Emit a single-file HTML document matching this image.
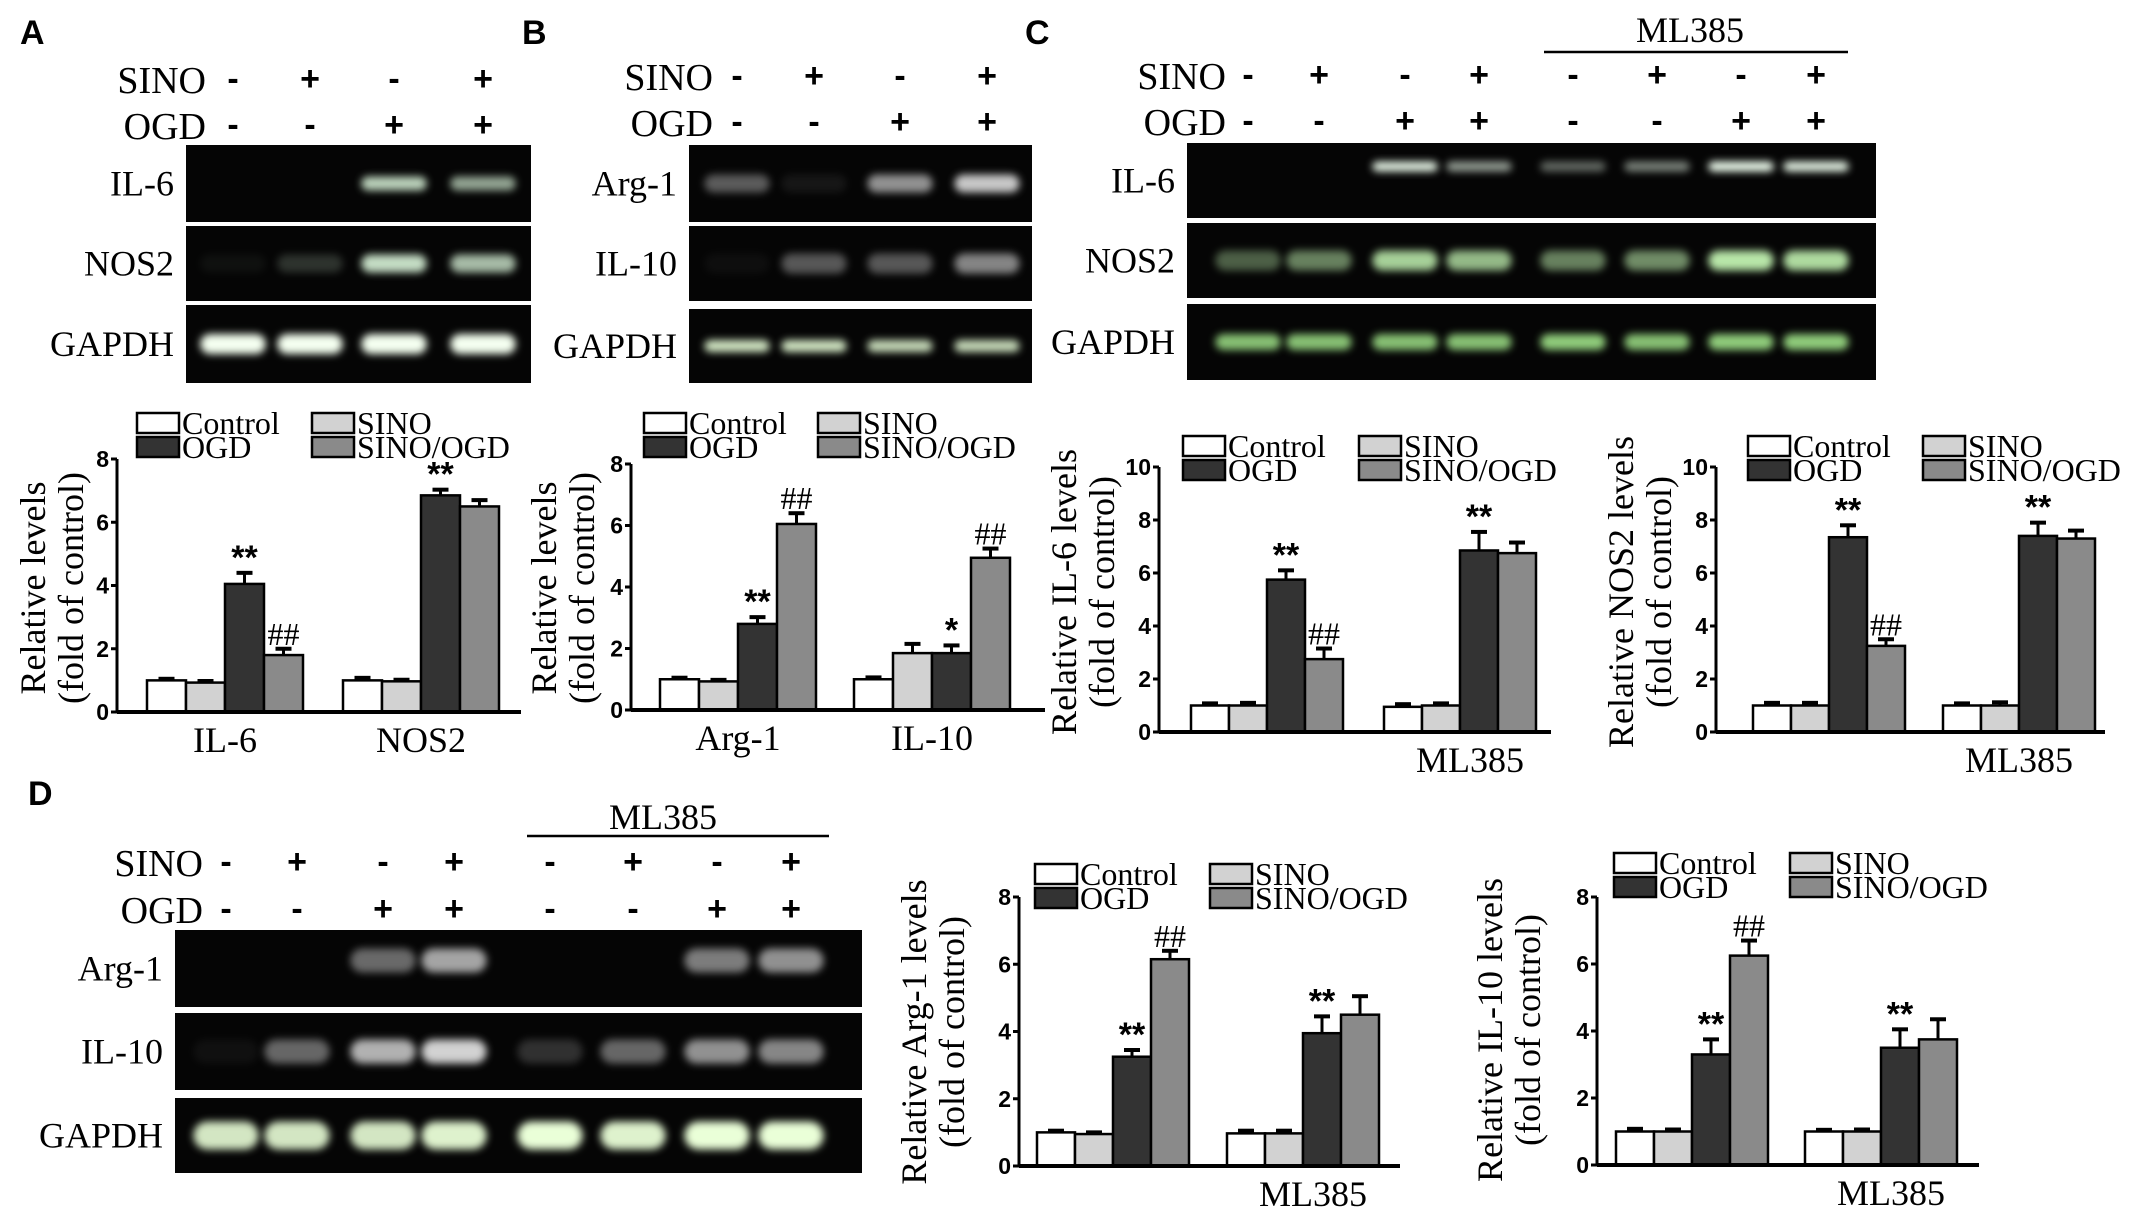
<!DOCTYPE html>
<html><head><meta charset="utf-8"><style>
html,body{margin:0;padding:0;background:#fff;}
svg{display:block;}
text{font-family:"Liberation Serif",serif;fill:#000;}
.b{font-family:"Liberation Sans",sans-serif;font-weight:bold;}
</style></head><body>
<svg id="fig" width="2150" height="1212" viewBox="0 0 2150 1212" xmlns="http://www.w3.org/2000/svg">
<defs>
<filter id="blur" x="-30%" y="-80%" width="160%" height="260%"><feGaussianBlur stdDeviation="4"/></filter>
</defs>
<g id="root"></g>
</svg>
<script>
// ---- chart data ----
const groupsA = ["IL-6","NOS2"];
const ctrlA = [1.0,1.0], sinoA=[0.93,0.97], ogdA=[4.05,6.85], sogdA=[1.8,6.5];
const errA = [[0.05,0.05,0.35,0.2],[0.08,0.05,0.18,0.2]];
const annA = [["","","**","##"],["","","**",""]];
const groupsB = ["Arg-1","IL-10"];
const ctrlB=[1.0,1.0], sinoB=[0.93,1.85], ogdB=[2.8,1.85], sogdB=[6.05,4.95];
const errB=[[0.05,0.05,0.22,0.35],[0.06,0.3,0.25,0.3]];
const annB=[["","","**","##"],["","","*","##"]];
const groupsC = ["","ML385"];
const ctrlC1=[1.0,0.95], sinoC1=[1.0,1.0], ogdC1=[5.75,6.85], sogdC1=[2.75,6.75];
const errC1=[[0.08,0.1,0.35,0.4],[0.1,0.08,0.7,0.4]];
const annC1=[["","","**","##"],["","","**",""]];
const ctrlC2=[1.0,1.0], sinoC2=[1.0,1.0], ogdC2=[7.35,7.4], sogdC2=[3.25,7.3];
const errC2=[[0.1,0.1,0.45,0.25],[0.08,0.12,0.5,0.3]];
const annC2=[["","","**","##"],["","","**",""]];
const ctrlD1=[1.0,0.97], sinoD1=[0.95,0.97], ogdD1=[3.25,3.95], sogdD1=[6.15,4.5];
const errD1=[[0.05,0.05,0.2,0.25],[0.08,0.08,0.5,0.55]];
const annD1=[["","","**","##"],["","","**",""]];
const ctrlD2=[1.0,1.0], sinoD2=[1.0,1.0], ogdD2=[3.3,3.5], sogdD2=[6.25,3.75];
const errD2=[[0.08,0.06,0.45,0.45],[0.05,0.06,0.55,0.6]];
const annD2=[["","","**","##"],["","","**",""]];
const ticks8=[0,2,4,6,8], ticks10=[0,2,4,6,8,10];
const seriesNames=["Control","SINO","OGD","SINO/OGD"];
const fills=["#ffffff","#d2d2d2","#333333","#8a8a8a"];

const NS="http://www.w3.org/2000/svg";
const root=document.getElementById('root');
function mk(tag,attrs,parent,txt){const e=document.createElementNS(NS,tag);for(const k in attrs)e.setAttribute(k,attrs[k]);if(txt!==undefined)e.textContent=txt;(parent||root).appendChild(e);return e;}

function chart(o){
  const g=mk('g',{});
  
  
  const y=v=>o.y0-(v/o.max)*(o.y0-o.yTop);
  const series=[o.c,o.s,o.og,o.so];
  for(let gi=0;gi<2;gi++){
    for(let si=0;si<4;si++){
      const v=series[si][gi], x=o.gx[gi]+si*o.bw;
      const r=mk('rect',{x:x,y:y(v),width:o.bw,height:o.y0-y(v),fill:fills[si],stroke:'#000','stroke-width':2.5},g);
      
      
      const e=o.err[gi][si], cx=x+o.bw/2, yt=y(v+e);
      mk('line',{x1:cx,y1:y(v),x2:cx,y2:yt,stroke:'#000','stroke-width':3},g);
      mk('line',{x1:cx-8,y1:yt,x2:cx+8,y2:yt,stroke:'#000','stroke-width':4},g);
      const a=o.ann[gi][si];
      if(a){const t=mk('text',{x:cx,y:yt-4,'text-anchor':'middle','font-size':a[0]==='#'?32:34,class:a[0]==='*'?'b':''},g,a);
        }
    }
    if(o.groups[gi]){const t=mk('text',{x:o.gx[gi]+2*o.bw+(o.labShift||0),y:o.y0+40,'text-anchor':'middle','font-size':36},g,o.groups[gi]);
      }
  }
  mk('line',{x1:o.ax,y1:o.yTop,x2:o.ax,y2:o.y0,stroke:'#000','stroke-width':3},g);
  mk('line',{x1:o.ax,y1:o.y0,x2:o.xEnd,y2:o.y0,stroke:'#000','stroke-width':4},g);
  o.ticks.forEach(tv=>{mk('line',{x1:o.ax-6,y1:y(tv),x2:o.ax,y2:y(tv),stroke:'#000','stroke-width':3},g);
    const t=mk('text',{x:o.ax-8,y:y(tv)+8,'text-anchor':'end','font-size':23,class:'b'},g,String(tv));
    });
  const yt=mk('text',{transform:`translate(${o.tx},${o.tcy}) rotate(-90)`,'text-anchor':'middle','font-size':36},g);
  
  mk('tspan',{x:0,y:0},yt,o.title);mk('tspan',{x:0,dy:38},yt,'(fold of control)');
  // legend
  const lg=mk('g',{},g);
  const pos=[[o.lx1,o.ly],[o.lx2,o.ly],[o.lx1,o.ly+24],[o.lx2,o.ly+24]];
  for(let i=0;i<4;i++){
    const [lx,ly]=pos[i];
    const e=mk('g',{},lg);
    mk('rect',{x:lx,y:ly,width:42,height:20,fill:fills[i],stroke:'#000','stroke-width':2.5},e);
    mk('text',{x:lx+45,y:ly+21,'font-size':32},e,seriesNames[i]);
  }
}
chart({name:'chart-a',groups:groupsA,c:ctrlA,s:sinoA,og:ogdA,so:sogdA,err:errA,ann:annA,max:8,ticks:ticks8,ax:117,y0:712,yTop:459,xEnd:521,gx:[147,343],bw:39,title:'Relative levels',tx:45,tcy:588,lx1:137,lx2:312,ly:413});
chart({name:'chart-b',groups:groupsB,c:ctrlB,s:sinoB,og:ogdB,so:sogdB,err:errB,ann:annB,max:8,ticks:ticks8,ax:631,y0:710,yTop:464,xEnd:1045,gx:[660,854],bw:39,title:'Relative levels',tx:556,tcy:588,lx1:644,lx2:818,ly:413});
chart({name:'chart-c-il6',groups:groupsC,c:ctrlC1,s:sinoC1,og:ogdC1,so:sogdC1,err:errC1,ann:annC1,max:10,ticks:ticks10,ax:1159,y0:732,yTop:467,xEnd:1551,gx:[1191,1384],bw:38,title:'Relative IL-6 levels',tx:1076,tcy:592,lx1:1183,lx2:1359,ly:436,labShift:10});
chart({name:'chart-c-nos2',groups:groupsC,c:ctrlC2,s:sinoC2,og:ogdC2,so:sogdC2,err:errC2,ann:annC2,max:10,ticks:ticks10,ax:1716,y0:732,yTop:467,xEnd:2105,gx:[1753,1943],bw:38,title:'Relative NOS2 levels',tx:1633,tcy:592,lx1:1748,lx2:1923,ly:436,labShift:0});
chart({name:'chart-d-arg1',groups:groupsC,c:ctrlD1,s:sinoD1,og:ogdD1,so:sogdD1,err:errD1,ann:annD1,max:8,ticks:ticks8,ax:1019,y0:1166,yTop:897,xEnd:1400,gx:[1037,1227],bw:38,title:'Relative Arg-1 levels',tx:926,tcy:1032,lx1:1035,lx2:1210,ly:864,labShift:10});
chart({name:'chart-d-il10',groups:groupsC,c:ctrlD2,s:sinoD2,og:ogdD2,so:sogdD2,err:errD2,ann:annD2,max:8,ticks:ticks8,ax:1597,y0:1165,yTop:897,xEnd:1979,gx:[1616,1805],bw:38,title:'Relative IL-10 levels',tx:1502,tcy:1030,lx1:1614,lx2:1790,ly:853,labShift:10});

// ---- gels ----
function gel(o){
  const g=mk('g',{});
  o.rows.forEach((r,ri)=>{
    mk('rect',{x:o.x,y:r[0],width:o.w,height:r[1]-r[0],fill:'#050505'},g);
    const lab=mk('text',{x:o.x-12,y:(r[0]+r[1])/2+12,'text-anchor':'end','font-size':36},g,o.labels[ri]);
    
    const lw=o.w/o.lanes.length;
    o.lanes.forEach((lx,li)=>{
      const I=o.intens[ri][li]; if(I<=0)return;
      const cy=(r[0]+r[1])/2+(o.bandOff?o.bandOff[ri]:0);
      const h=o.bh[ri];
      mk('rect',{x:lx-lw*0.38,y:cy-h/2,width:lw*0.76,height:h,rx:h/2,fill:o.col[ri],opacity:I,filter:'url(#blur)'},g);
    });
  });
}
function signs(o){
  const g=mk('g',{});
  mk('text',{x:o.tx,y:o.y1+13,'text-anchor':'end','font-size':38},g,'SINO');
  mk('text',{x:o.tx,y:o.y2+13,'text-anchor':'end','font-size':38},g,'OGD');
  o.xs.forEach((x,i)=>{mk('text',{x:x,y:o.y1+10,'text-anchor':'middle','font-size':34,class:'b'},g,o.s[i]);
    mk('text',{x:x,y:o.y2+10,'text-anchor':'middle','font-size':34,class:'b'},g,o.d[i]);});
}
const pm4s=['-','+','-','+'], pm4d=['-','-','+','+'];
const pm8s=pm4s.concat(pm4s), pm8d=pm4d.concat(pm4d);
const laneA=[233,310,394,483], laneB=[737,814,900,987];
const laneC=[1248,1319,1405,1479,1573,1657,1741,1816];
const laneD=[226,297,383,454,550,633,717,791];
signs({name:'treatment-a',tx:206,y1:80,y2:126,xs:laneA,s:pm4s,d:pm4d});
signs({name:'treatment-b',tx:713,y1:77,y2:123,xs:laneB,s:pm4s,d:pm4d});
signs({name:'treatment-c',tx:1226,y1:76,y2:122,xs:laneC,s:pm8s,d:pm8d});
signs({name:'treatment-d',tx:203,y1:863,y2:910,xs:laneD,s:pm8s,d:pm8d});
gel({name:'gel-a',x:186,w:345,rows:[[145,222],[226,301],[305,383]],labels:['IL-6','NOS2','GAPDH'],lanes:laneA,
  intens:[[0,0,0.9,0.7],[0.05,0.2,0.95,0.8],[1,1,1,1]],bh:[14,18,20],col:['#cfe8cf','#cfe8cf','#f4fff0']});
gel({name:'gel-b',x:689,w:343,rows:[[145,222],[226,301],[309,383]],labels:['Arg-1','IL-10','GAPDH'],lanes:laneB,
  intens:[[0.4,0.08,0.65,0.9],[0.05,0.45,0.45,0.7],[0.9,0.9,0.85,0.85]],bh:[18,20,12],col:['#dddddd','#bbbbbb','#e8ffd8']});
gel({name:'gel-c',x:1187,w:689,rows:[[143,218],[223,298],[304,380]],labels:['IL-6','NOS2','GAPDH'],lanes:laneC,
  intens:[[0,0,0.95,0.6,0.4,0.5,1,0.95],[0.4,0.55,0.9,0.8,0.55,0.6,1,0.95],[0.8,0.8,0.8,0.8,0.85,0.8,0.85,0.85]],bh:[10,20,16],col:['#f0fff0','#b8e6a8','#a8f090'],bandOff:[-14,0,0]});
gel({name:'gel-d',x:175,w:687,rows:[[930,1007],[1013,1090],[1098,1173]],labels:['Arg-1','IL-10','GAPDH'],lanes:laneD,
  intens:[[0,0,0.5,0.8,0,0,0.6,0.7],[0.05,0.45,0.8,0.95,0.2,0.45,0.65,0.6],[0.9,0.9,0.9,0.95,1,0.95,1,1]],bh:[24,24,28],col:['#cccccc','#dddddd','#eaffd8'],bandOff:[-8,0,0]});

// ---- headers ----
function t(x,y,s,fs,cls,name){const e=mk('text',{x:x,y:y,'font-size':fs,class:cls||''},root,s);return e;}
t(20,44,'A',34,'b','panel-label-a');
t(522,44,'B',34,'b','panel-label-b');
t(1025,44,'C',34,'b','panel-label-c');
t(28,805,'D',34,'b','panel-label-d');
const m1=t(1690,42,'ML385',36,'','ml385-header-c');m1.setAttribute('text-anchor','middle');
mk('line',{x1:1544,y1:52,x2:1848,y2:52,stroke:'#000','stroke-width':2.5});
const m2=t(663,829,'ML385',36,'','ml385-header-d');m2.setAttribute('text-anchor','middle');
mk('line',{x1:527,y1:836,x2:829,y2:836,stroke:'#000','stroke-width':2.5});
</script>
</body></html>
